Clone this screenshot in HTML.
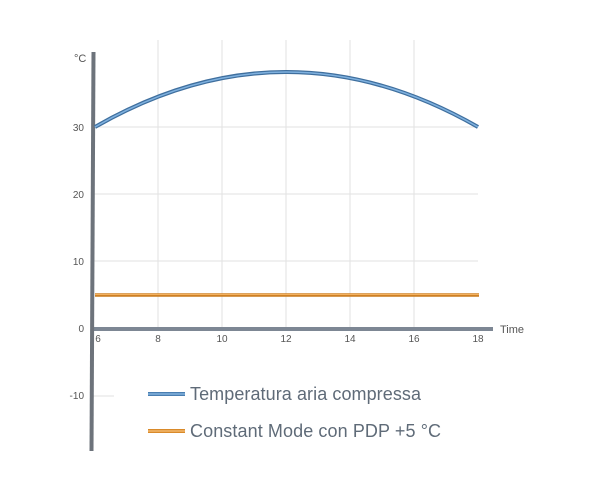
<!DOCTYPE html>
<html><head><meta charset="utf-8"><style>
body{margin:0;background:#fff;}
svg{display:block;font-family:"Liberation Sans",sans-serif;}
</style></head><body>
<svg width="600" height="487" viewBox="0 0 600 487">
<g stroke="#e2e2e2" stroke-width="1" fill="none">
<line x1="158" y1="40" x2="158" y2="328"/>
<line x1="222" y1="40" x2="222" y2="328"/>
<line x1="286" y1="40" x2="286" y2="328"/>
<line x1="350" y1="40" x2="350" y2="328"/>
<line x1="414" y1="40" x2="414" y2="328"/>
<line x1="93" y1="127" x2="478" y2="127"/>
<line x1="93" y1="194" x2="478" y2="194"/>
<line x1="93" y1="261" x2="478" y2="261"/>
<line x1="93" y1="396" x2="114" y2="396"/>
</g>
<line x1="93" y1="329" x2="493" y2="329" stroke="#7d8794" stroke-width="4"/>
<line x1="93.5" y1="52" x2="91.5" y2="451" stroke="#6d737b" stroke-width="4"/>
<g fill="#555" font-size="10">
<text x="84" y="131" text-anchor="end">30</text>
<text x="84" y="198" text-anchor="end">20</text>
<text x="84" y="265" text-anchor="end">10</text>
<text x="84" y="332" text-anchor="end">0</text>
<text x="84" y="399" text-anchor="end">-10</text>
<text x="74" y="62" font-size="11">°C</text>
<text x="98" y="342" text-anchor="middle">6</text>
<text x="158" y="342" text-anchor="middle">8</text>
<text x="222" y="342" text-anchor="middle">10</text>
<text x="286" y="342" text-anchor="middle">12</text>
<text x="350" y="342" text-anchor="middle">14</text>
<text x="414" y="342" text-anchor="middle">16</text>
<text x="478" y="342" text-anchor="middle">18</text>
<text x="500" y="333" font-size="11">Time</text>
</g>
<path d="M95 127 Q286 17 478 127" fill="none" stroke="#3f6f9e" stroke-width="4"/>
<path d="M95 127 Q286 17 478 127" fill="none" stroke="#7fb1df" stroke-width="1.5"/>
<line x1="95" y1="295" x2="479" y2="295" stroke="#c97a1c" stroke-width="3.5"/>
<line x1="95" y1="294.5" x2="479" y2="294.5" stroke="#f3b15f" stroke-width="1.2"/>
<line x1="148" y1="394" x2="185" y2="394" stroke="#4a7eb1" stroke-width="4"/>
<line x1="148" y1="394" x2="185" y2="394" stroke="#8dbde6" stroke-width="1.3"/>
<line x1="148" y1="431" x2="185" y2="431" stroke="#d98a2a" stroke-width="4"/>
<line x1="148" y1="431" x2="185" y2="431" stroke="#f8c17a" stroke-width="1.3"/>
<g fill="#5f6b78" font-size="18">
<text x="190" y="400" textLength="231">Temperatura aria compressa</text>
<text x="190" y="437" textLength="251">Constant Mode con PDP +5 °C</text>
</g>
</svg>
</body></html>
